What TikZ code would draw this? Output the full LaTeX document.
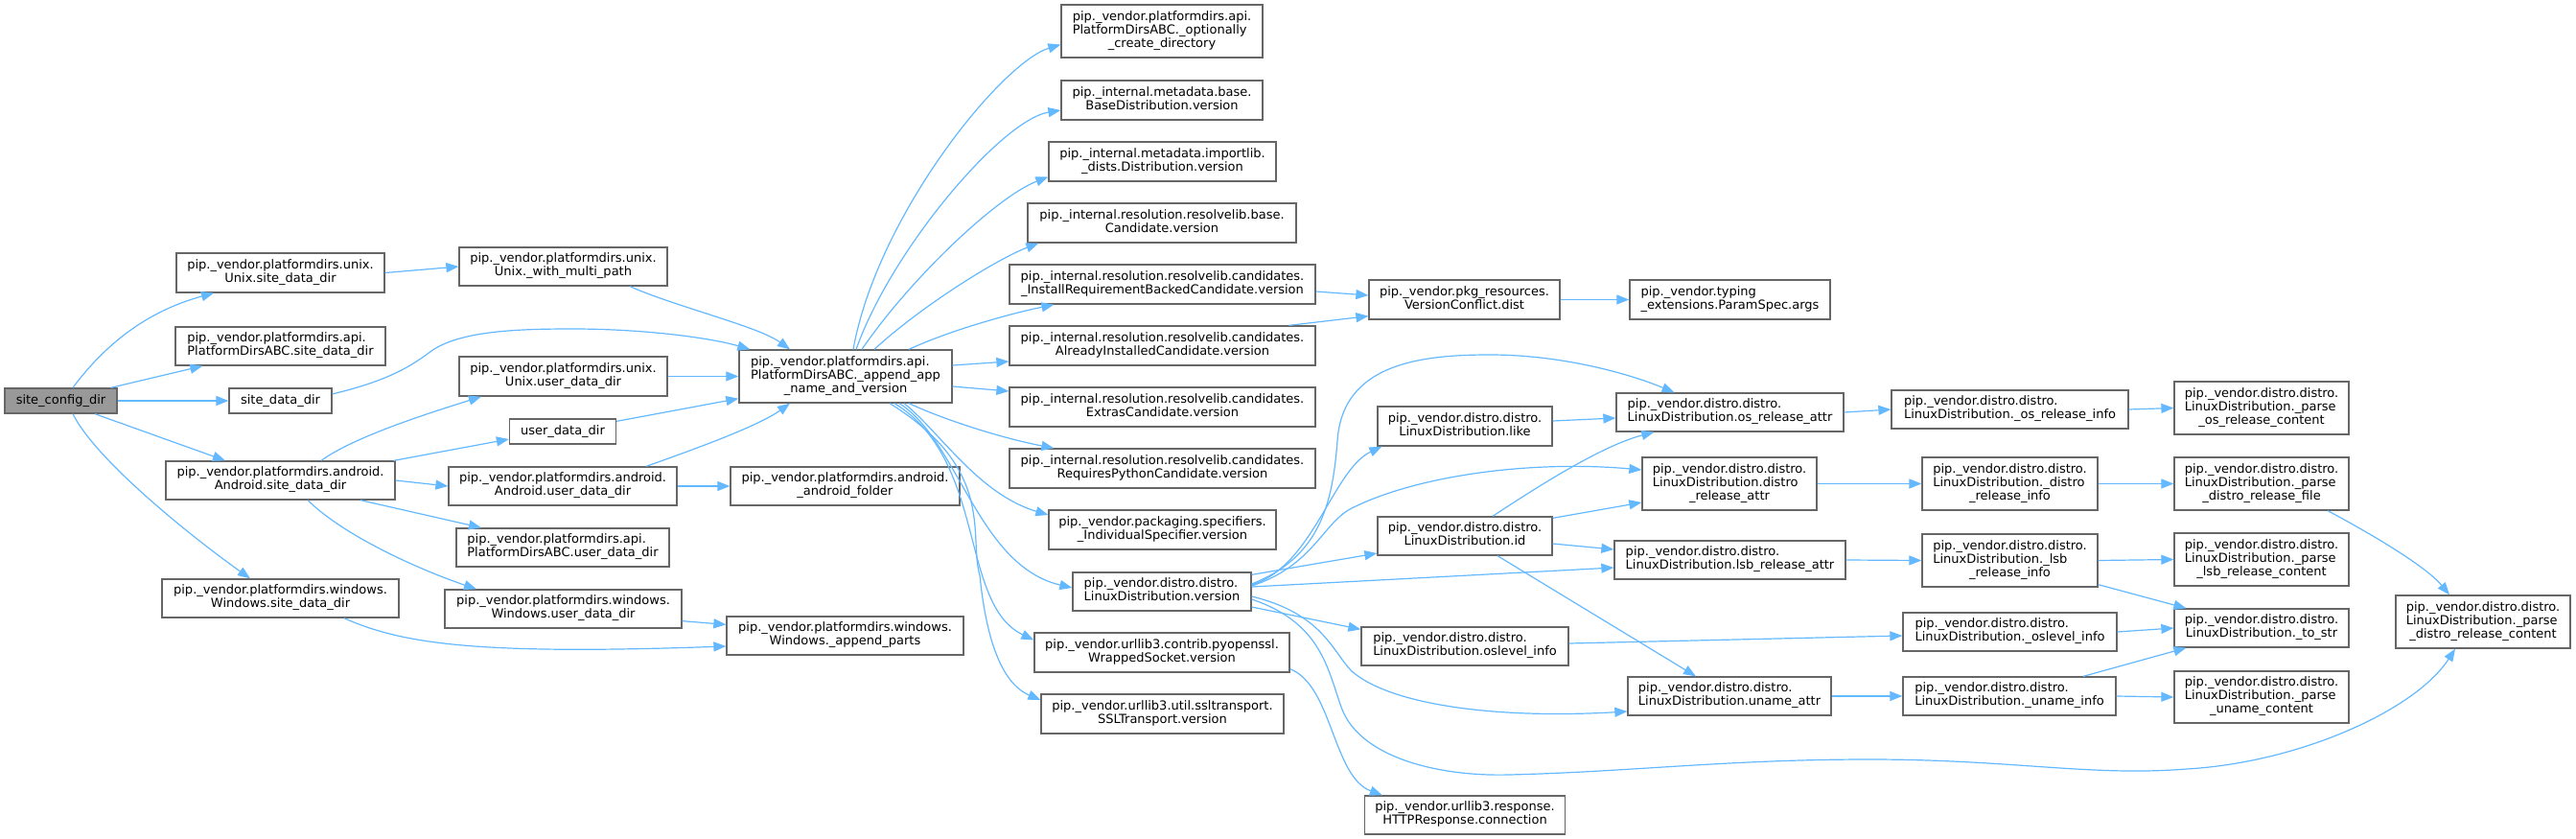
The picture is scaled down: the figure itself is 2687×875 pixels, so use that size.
\documentclass[tikz,border=0pt]{standalone}
\usepackage{fontspec}
\setmainfont{DejaVu Sans}
\usetikzlibrary{arrows.meta,calc}
\definecolor{edgec}{HTML}{63B8FF}
\definecolor{boxc}{HTML}{666666}
\definecolor{rootc}{HTML}{999999}
\newcommand{\Lii}[2]{\begin{tabular}{@{}l@{}}#1\\\multicolumn{1}{@{}c@{}}{#2}\end{tabular}}
\newcommand{\Liii}[3]{\begin{tabular}{@{}l@{}}#1\\#2\\\multicolumn{1}{@{}c@{}}{#3}\end{tabular}}
\newcommand{\mkbox}[6]{\node[box,minimum width=#4pt,minimum height=#5pt] (#1) at (#2,#3) {#6};}
\newcommand{\dd}{pip.\_vendor.distro.distro.}
\newcommand{\rc}{pip.\_internal.resolution.resolvelib.candidates.}
\begin{document}
\begin{tikzpicture}[x=1pt,y=-1pt,
  box/.style={draw=boxc,fill=white,line width=1.3pt,inner sep=0pt,font=\fontsize{13}{14}\selectfont},
  edge/.style={draw=edgec,line width=1.2pt,-{Triangle[length=13pt,width=10pt]}}]
\useasboundingbox (0,0) rectangle (2687,875);
% column 1
\node[box,fill=rootc,minimum width=117pt,minimum height=26pt] (sc) at (63.5,418) {site\_config\_dir};
\mkbox{usd}{292.5}{284.5}{217}{41}{\Lii{pip.\_vendor.platformdirs.unix.}{Unix.site\_data\_dir}}
\mkbox{psd}{292.5}{361}{219}{40}{\Lii{pip.\_vendor.platformdirs.api.}{PlatformDirsABC.site\_data\_dir}}
\mkbox{sdd}{292.5}{418}{107}{26}{site\_data\_dir}
\mkbox{asd}{292.5}{501}{239}{40}{\Lii{pip.\_vendor.platformdirs.android.}{Android.site\_data\_dir}}
\mkbox{wsd}{292.5}{624}{247}{40}{\Lii{pip.\_vendor.platformdirs.windows.}{Windows.site\_data\_dir}}
% column 2
\mkbox{wmp}{587.5}{278}{217}{40}{\Lii{pip.\_vendor.platformdirs.unix.}{Unix.\_with\_multi\_path}}
\mkbox{uud}{587.5}{392.5}{217}{41}{\Lii{pip.\_vendor.platformdirs.unix.}{Unix.user\_data\_dir}}
\mkbox{udd}{587}{450}{111}{26}{user\_data\_dir}
\mkbox{aud}{587}{507}{238}{40}{\Lii{pip.\_vendor.platformdirs.android.}{Android.user\_data\_dir}}
\mkbox{pud}{587}{571}{222}{40}{\Lii{pip.\_vendor.platformdirs.api.}{PlatformDirsABC.user\_data\_dir}}
\mkbox{wud}{587.5}{635}{247}{40}{\Lii{pip.\_vendor.platformdirs.windows.}{Windows.user\_data\_dir}}
% column 3
\mkbox{app}{882}{392.5}{222}{55}{\Liii{pip.\_vendor.platformdirs.api.}{PlatformDirsABC.\_append\_app}{\_name\_and\_version}}
\mkbox{afold}{881.5}{507}{239}{40}{\Lii{pip.\_vendor.platformdirs.android.}{\_android\_folder}}
\mkbox{wap}{881.5}{663}{247}{40}{\Lii{pip.\_vendor.platformdirs.windows.}{Windows.\_append\_parts}}
% column 4
\mkbox{opt}{1212}{32.5}{210}{55}{\Liii{pip.\_vendor.platformdirs.api.}{PlatformDirsABC.\_optionally}{\_create\_directory}}
\mkbox{bdv}{1212}{104.5}{210}{41}{\Lii{pip.\_internal.metadata.base.}{BaseDistribution.version}}
\mkbox{idv}{1212.5}{168.5}{237}{41}{\Lii{pip.\_internal.metadata.importlib.}{\_dists.Distribution.version}}
\mkbox{cv}{1212}{232.5}{280}{41}{\Lii{pip.\_internal.resolution.resolvelib.base.}{Candidate.version}}
\mkbox{irv}{1212.5}{296.5}{319}{41}{\Lii{\rc}{\_InstallRequirementBackedCandidate.version}}
\mkbox{aiv}{1212.5}{360.5}{319}{41}{\Lii{\rc}{AlreadyInstalledCandidate.version}}
\mkbox{ecv}{1212.5}{424.5}{319}{41}{\Lii{\rc}{ExtrasCandidate.version}}
\mkbox{rpv}{1212.5}{488.5}{319}{41}{\Lii{\rc}{RequiresPythonCandidate.version}}
\mkbox{isv}{1212.5}{552.5}{237}{41}{\Lii{pip.\_vendor.packaging.specifiers.}{\_IndividualSpecifier.version}}
\mkbox{ldv}{1212}{617}{186}{40}{\Lii{\dd}{LinuxDistribution.version}}
\mkbox{wsv}{1212}{680.5}{266}{41}{\Lii{pip.\_vendor.urllib3.contrib.pyopenssl.}{WrappedSocket.version}}
\mkbox{sslv}{1212.5}{744.5}{253}{41}{\Lii{pip.\_vendor.urllib3.util.ssltransport.}{SSLTransport.version}}
% column 5
\mkbox{vcd}{1527.5}{312.5}{199}{41}{\Lii{pip.\_vendor.pkg\_resources.}{VersionConflict.dist}}
\mkbox{like}{1528}{444.5}{182}{41}{\Lii{\dd}{LinuxDistribution.like}}
\mkbox{lid}{1528}{559}{182}{40}{\Lii{\dd}{LinuxDistribution.id}}
\mkbox{osl}{1528}{674}{216}{40}{\Lii{\dd}{LinuxDistribution.oslevel\_info}}
\mkbox{http}{1528}{850}{209}{40}{\Lii{pip.\_vendor.urllib3.response.}{HTTPResponse.connection}}
% column 6
\mkbox{psa}{1804.5}{312.5}{209}{41}{\Lii{pip.\_vendor.typing}{\_extensions.ParamSpec.args}}
\mkbox{osra}{1804.5}{430}{237}{40}{\Lii{\dd}{LinuxDistribution.os\_release\_attr}}
\mkbox{dra}{1804}{504.5}{182}{55}{\Liii{\dd}{LinuxDistribution.distro}{\_release\_attr}}
\mkbox{lsba}{1804.5}{584}{241}{40}{\Lii{\dd}{LinuxDistribution.lsb\_release\_attr}}
\mkbox{una}{1804}{726}{212}{40}{\Lii{\dd}{LinuxDistribution.uname\_attr}}
% column 7
\mkbox{osri}{2096.5}{427}{247}{40}{\Lii{\dd}{LinuxDistribution.\_os\_release\_info}}
\mkbox{dri}{2096.5}{504.5}{183}{55}{\Liii{\dd}{LinuxDistribution.\_distro}{\_release\_info}}
\mkbox{lsbi}{2096.5}{584.5}{183}{55}{\Liii{\dd}{LinuxDistribution.\_lsb}{\_release\_info}}
\mkbox{osli}{2096.5}{659}{223}{40}{\Lii{\dd}{LinuxDistribution.\_oslevel\_info}}
\mkbox{uni}{2096}{726}{222}{40}{\Lii{\dd}{LinuxDistribution.\_uname\_info}}
% column 8
\mkbox{posr}{2359}{425.5}{182}{55}{\Liii{\dd}{LinuxDistribution.\_parse}{\_os\_release\_content}}
\mkbox{pdrf}{2359}{504.5}{182}{55}{\Liii{\dd}{LinuxDistribution.\_parse}{\_distro\_release\_file}}
\mkbox{plsb}{2359}{583.5}{182}{55}{\Liii{\dd}{LinuxDistribution.\_parse}{\_lsb\_release\_content}}
\mkbox{tostr}{2359}{655}{182}{40}{\Lii{\dd}{LinuxDistribution.\_to\_str}}
\mkbox{pun}{2359}{727}{182}{54}{\Liii{\dd}{LinuxDistribution.\_parse}{\_uname\_content}}
% column 9
\mkbox{pdrc}{2590}{648.5}{182}{55}{\Liii{\dd}{LinuxDistribution.\_parse}{\_distro\_release\_content}}

% ---- edges from site_config_dir
\draw[edge] ($(sc.north)+(12.5,0)$) .. controls (120,345) and (170,320) .. ($(usd.south)+(-69.5,0)$);
\draw[edge] ($(sc.north east)+(-7,0)$) -- ($(psd.south west)+(29,0)$);
\draw[edge] (sc.east) -- (sdd.west);
\draw[edge] ($(sc.south)+(35.5,0)$) -- ($(asd.north)+(-57.5,0)$);
\draw[edge] ($(sc.south)+(12.5,0)$) .. controls (100,480) and (200,560) .. ($(wsd.north)+(-31.5,0)$);
% ---- column 1 -> 2/3
\draw[edge] (usd.east) -- (wmp.west);
\draw[edge] ($(wmp.south)+(69.5,0)$) .. controls (705,320) and (790,340) .. ($(app.north)+(-58,0)$);
\draw[edge] ($(sdd.east)+(0,-7)$) .. controls (400,398) and (425,385) .. (450,366) .. controls (480,345) and (540,343) .. (597,343) .. controls (670,343) and (740,352) .. ($(app.north west)+(12,0)$);
\draw[edge] (uud.east) -- (app.west);
\draw[edge] ($(udd.north east)+(0,3)$) -- ($(app.south west)+(0,-5)$);
\draw[edge] ($(aud.north)+(87,0)$) .. controls (720,470) and (790,445) .. ($(app.south)+(-58,0)$);
\draw[edge] ($(asd.north)+(42.5,0)$) .. controls (370,455) and (450,430) .. ($(uud.south)+(-85.5,0)$);
\draw[edge] ($(asd.north east)+(-2,0)$) -- ($(udd.west)+(0,8)$);
\draw[edge] (asd.east) -- (aud.west);
\draw[edge] ($(asd.south)+(83.5,0)$) -- ($(pud.north)+(-85,0)$);
\draw[edge] ($(asd.south)+(28.5,0)$) .. controls (360,560) and (440,595) .. ($(wud.north)+(-90.5,0)$);
\draw[edge] (aud.east) -- (afold.west);
\draw[edge] ($(wsd.south)+(66.5,0)$) .. controls (420,672) and (500,683) .. ($(wap.west)+(0,11)$);
\draw[edge] ($(wud.south east)+(0,-8)$) -- ($(wap.north west)+(0,9)$);
% ---- from append_app
\draw[edge] ($(app.north)+(8,0)$) .. controls (915,225) and (1045,65) .. ($(opt.west)+(0,14)$);
\draw[edge] ($(app.north)+(11,0)$) .. controls (930,260) and (1045,125) .. ($(bdv.west)+(0,10.5)$);
\draw[edge] ($(app.north)+(17,0)$) .. controls (950,290) and (1040,205) .. ($(idv.west)+(0,16)$);
\draw[edge] ($(app.north)+(30,0)$) .. controls (960,320) and (1040,270) .. ($(cv.south west)+(12,0)$);
\draw[edge] ($(app.north)+(66,0)$) .. controls (990,345) and (1050,328) .. ($(irv.south west)+(47,0)$);
\draw[edge] ($(app.east)+(0,-11.5)$) -- ($(aiv.west)+(0,16.5)$);
\draw[edge] ($(app.east)+(0,10.5)$) -- ($(ecv.west)+(0,-16.5)$);
\draw[edge] ($(app.south)+(66,0)$) .. controls (990,440) and (1050,458) .. ($(rpv.north west)+(47,0)$);
\draw[edge] ($(app.south)+(61,0)$) .. controls (980,450) and (1020,515) .. ($(isv.west)+(0,-15.5)$);
\draw[edge] ($(app.south)+(56,0)$) .. controls (1000,460) and (1020,590) .. ($(ldv.west)+(0,-4)$);
\draw[edge] ($(app.south)+(51,0)$) .. controls (1030,480) and (1000,630) .. ($(wsv.west)+(0,-13)$);
\draw[edge] ($(app.south)+(46,0)$) .. controls (1040,490) and (1010,560) .. (1022,600) .. controls (1030,680) and (1050,715) .. ($(sslv.west)+(0,-14.5)$);
% ---- candidates -> dist
\draw[edge] ($(irv.east)+(0,7.5)$) -- ($(vcd.west)+(0,-4.5)$);
\draw[edge] ($(aiv.north east)+(-28,0)$) -- ($(vcd.south west)+(0,-4)$);
\draw[edge] (vcd.east) -- (psa.west);
\draw[edge] ($(wsv.south east)+(0,-4)$) .. controls (1390,715) and (1390,810) .. ($(http.north west)+(19,0)$);
% ---- from LinuxDistribution.version
\draw[edge] ($(ldv.east)+(0,-7)$) .. controls (1370,590) and (1390,490) .. ($(like.south west)+(5,0)$);
\draw[edge] ($(ldv.east)+(0,-8)$) .. controls (1380,580) and (1390,520) .. (1395,460) .. controls (1400,380) and (1480,370) .. (1554,370) .. controls (1630,370) and (1700,390) .. ($(osra.north)+(-58,0)$);
\draw[edge] ($(ldv.east)+(0,-6)$) .. controls (1370,590) and (1380,545) .. (1410,530) .. controls (1480,495) and (1600,480) .. ($(dra.west)+(0,-14.5)$);
\draw[edge] ($(ldv.north east)+(0,3)$) -- ($(lid.west)+(0,18)$);
\draw[edge] ($(ldv.east)+(0,-5)$) -- ($(lsba.west)+(0,8)$);
\draw[edge] ($(ldv.east)+(0,16)$) -- ($(osl.north west)+(0,3)$);
\draw[edge] ($(ldv.east)+(0,5)$) .. controls (1380,640) and (1390,680) .. (1410,700) .. controls (1450,735) and (1560,750) .. ($(una.west)+(0,16)$);
\draw[edge] ($(ldv.east)+(0,8)$) .. controls (1380,650) and (1385,700) .. (1400,740) .. controls (1420,790) and (1500,810) .. (1574,808) .. controls (1700,805) and (1800,792) .. (1950,792) .. controls (2100,792) and (2180,810) .. (2281,802) .. controls (2400,795) and (2520,740) .. ($(pdrc.south)+(-29,0)$);
% ---- from LinuxDistribution.id / like
\draw[edge] ($(lid.north)+(29,0)$) .. controls (1600,510) and (1670,465) .. ($(osra.south west)+(40,0)$);
\draw[edge] ($(lid.north east)+(0,2)$) -- ($(dra.west)+(0,19.5)$);
\draw[edge] ($(lid.east)+(0,8)$) -- ($(lsba.west)+(0,-11)$);
\draw[edge] ($(lid.south)+(34,0)$) -- ($(una.north)+(-35,0)$);
\draw[edge] ($(like.east)+(0,-5.5)$) -- ($(osra.west)+(0,6)$);
% ---- right part
\draw[edge] (osra.east) -- (osri.west);
\draw[edge] (osri.east) -- (posr.west);
\draw[edge] (dra.east) -- (dri.west);
\draw[edge] (dri.east) -- (pdrf.west);
\draw[edge] ($(pdrf.south)+(69,0)$) .. controls (2470,555) and (2530,590) .. ($(pdrc.north)+(-35,0)$);
\draw[edge] (lsba.east) -- (lsbi.west);
\draw[edge] (lsbi.east) -- (plsb.west);
\draw[edge] ($(lsbi.south east)+(0,-3)$) -- ($(tostr.north west)+(13,0)$);
\draw[edge] ($(osl.east)+(0,-3)$) -- ($(osli.west)+(0,4)$);
\draw[edge] (osli.east) -- (tostr.west);
\draw[edge] (una.east) -- (uni.west);
\draw[edge] ($(uni.north)+(77,0)$) -- ($(tostr.south west)+(13,0)$);
\draw[edge] (uni.east) -- (pun.west);
\end{tikzpicture}
\end{document}
